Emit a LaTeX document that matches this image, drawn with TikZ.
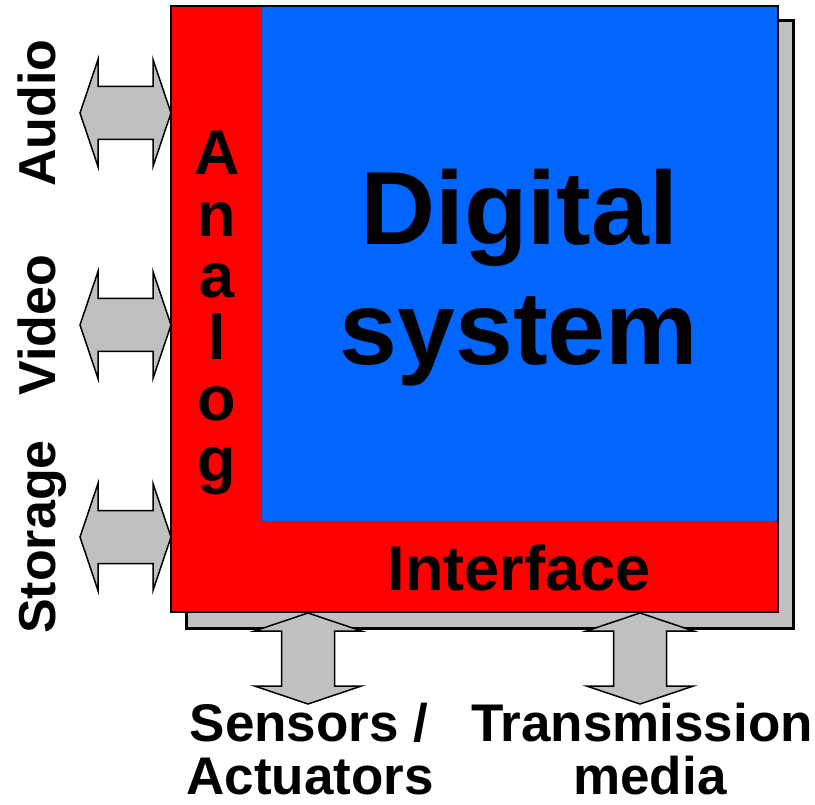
\documentclass[tikz,border=0pt]{standalone}
\usepackage{fontspec}
\setmainfont{Liberation Sans}

\definecolor{anared}{HTML}{FF0000}
\definecolor{digiblue}{HTML}{0066FF}
\definecolor{ifgray}{HTML}{C0C0C0}

\tikzset{
  % fat two-headed arrow, tip at the origin, pointing along +x
  biarrow/.pic={
    \filldraw[fill=ifgray, draw=black, line width=1.5pt]
      (0,0) -- (18,53.5) -- (18,26.5) -- (73,26.5) -- (73,53.5) -- (91,0)
      -- (73,-53.5) -- (73,-26.5) -- (18,-26.5) -- (18,-53.5) -- cycle;
  },
  sidelbl/.style={font=\fontsize{52}{53}\selectfont\bfseries, rotate=90, anchor=base, inner sep=0pt},
  botlbl/.style={font=\fontsize{53}{53}\selectfont\bfseries, anchor=base, inner sep=0pt},
  redlbl/.style={font=\fontsize{63}{63}\selectfont\bfseries, anchor=base, inner sep=0pt},
  biglbl/.style={font=\fontsize{104}{104}\selectfont\bfseries, anchor=base, inner sep=0pt},
}

\begin{document}
\begin{tikzpicture}[x=1pt, y=-1pt]
    \useasboundingbox (0,0) rectangle (815,805);
    %\draw[help lines, step=50] (0,0) grid (815,805);

    % shadow, analog frame, digital core
    \filldraw[fill=ifgray, line width=3pt] (186,21) rectangle (793,628);
    \fill[anared] (171,6) rectangle (778,612);
    \fill[digiblue] (262,6) rectangle (778,521);
    \draw[line width=2pt] (171,6) rectangle (778,612);

    \node[biglbl] (digital) at (519,245) {Digital};
    \node[biglbl] (system) at (519,365) {system};
    \node[redlbl] (interface) at (519,590) {Interface};
    \foreach \ch [count=\i from 0] in {A,n,a,l,o,g}
        \node[redlbl] (analog\i) at (217,175+61.4*\i) {\ch};

    % left side: audio, video, storage
    \foreach \nm/\yy in {Audio/113, Video/325, Storage/537}{
        \pic (arr\nm) at (80,\yy) {biarrow};
        \node[sidelbl] (\nm) at (56,\yy) {\nm};
    }

    % bottom side
    \pic[rotate=-90] (arrSens) at (308,613) {biarrow};
    \pic[rotate=-90] (arrTrans) at (640,613) {biarrow};
    \node[botlbl] (sensors) at (309,741) {Sensors /};
    \node[botlbl] (actuators) at (310,794) {Actuators};
    \node[botlbl] (transmission) at (642,741) {Transmission};
    \node[botlbl] (media) at (650,794) {media};
\end{tikzpicture}
\end{document}
